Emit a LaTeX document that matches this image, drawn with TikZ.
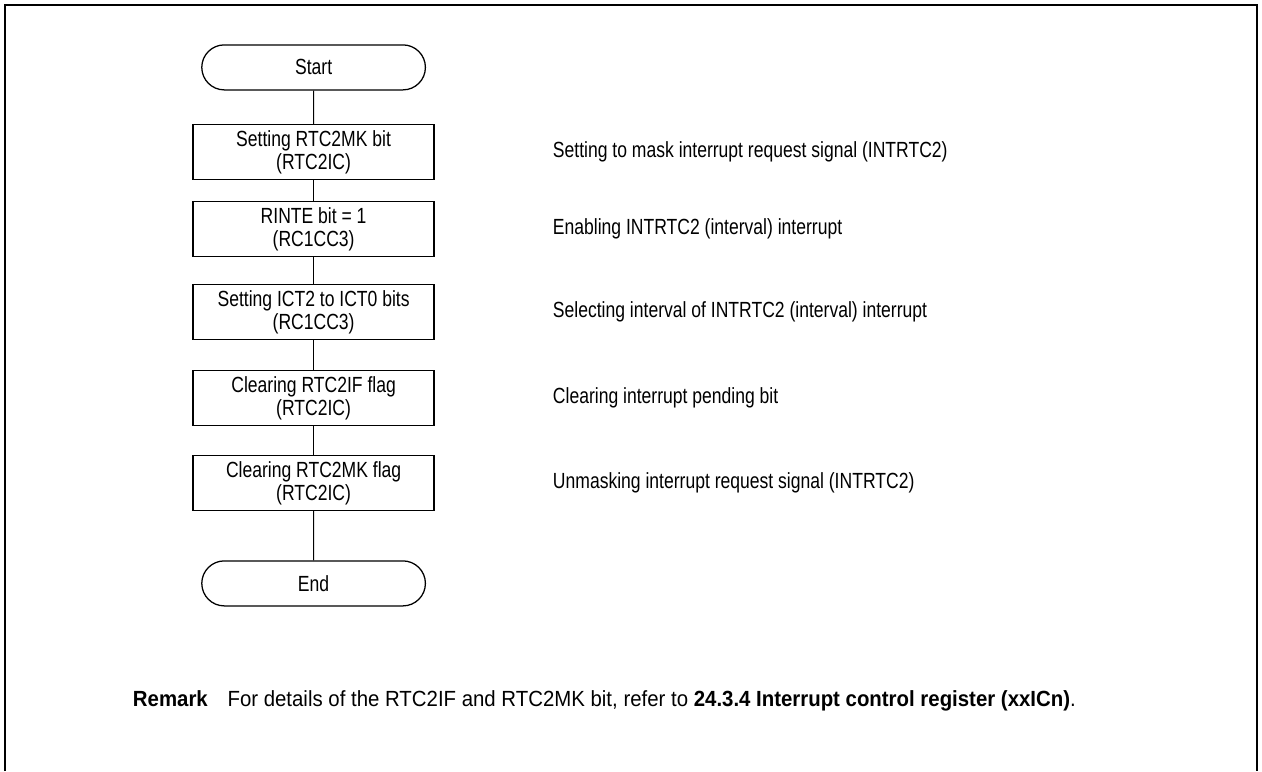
\documentclass[tikz,border=0pt]{standalone}
\usepackage{fontspec}
\setmainfont{Liberation Sans}
\newfontfamily\narrowsf{Liberation Sans}[FakeStretch=0.8]
\newfontfamily\remarksf{Liberation Sans}[FakeStretch=0.93]
\usetikzlibrary{shapes.misc}

\begin{document}
\begin{tikzpicture}[x=1cm,y=1cm,
 terminal/.style={draw=black,rounded rectangle,minimum width=5.825cm,minimum height=1.125cm,line width=0.9pt,align=center,fill=white},
 process/.style={draw=black,rectangle,minimum width=6.025cm,minimum height=1.375cm,line width=1pt,align=center,fill=white,inner sep=1pt},
 link/.style={black,line width=0.6pt},
 note/.style={anchor=west,align=left},
 every node/.style={font=\narrowsf\fontsize{15.6}{16.6}\selectfont}]
\useasboundingbox (0,0) rectangle (31.55,19.275);
\draw[line width=1.8pt] (0.125,0) -- (0.125,19.15) -- (31.425,19.15) -- (31.425,0);
\node[terminal] (start) at (7.84,17.59) {Start};
\node[process] (mk) at (7.84,15.475) {Setting RTC2MK bit\\(RTC2IC)};
\node[process] (rinte) at (7.84,13.55) {RINTE bit = 1\\(RC1CC3)};
\node[process] (ict) at (7.84,11.475) {Setting ICT2 to ICT0 bits\\(RC1CC3)};
\node[process] (clrif) at (7.84,9.325) {Clearing RTC2IF flag\\(RTC2IC)};
\node[process] (clrmk) at (7.84,7.2) {Clearing RTC2MK flag\\(RTC2IC)};
\node[terminal] (end) at (7.84,4.69) {End};
\node[note] (n1) at (13.7,15.475) {Setting to mask interrupt request signal (INTRTC2)};
\node[note] (n2) at (13.7,13.55) {Enabling INTRTC2 (interval) interrupt};
\node[note] (n3) at (13.7,11.475) {Selecting interval of INTRTC2 (interval) interrupt};
\node[note] (n4) at (13.7,9.325) {Clearing interrupt pending bit};
\node[note] (n5) at (13.7,7.2) {Unmasking interrupt request signal (INTRTC2)};
\node[note,font=\remarksf\fontsize{15.6}{16.6}\selectfont] (remark) at (3.2,1.75) {\textbf{Remark}\hspace{0.9em}For details of the RTC2IF and RTC2MK bit, refer to \textbf{24.3.4 Interrupt control register (xxICn)}.};
\draw[link] (start) -- (mk);
\draw[link] (mk) -- (rinte);
\draw[link] (rinte) -- (ict);
\draw[link] (ict) -- (clrif);
\draw[link] (clrif) -- (clrmk);
\draw[link] (clrmk) -- (end);
\end{tikzpicture}
\end{document}
